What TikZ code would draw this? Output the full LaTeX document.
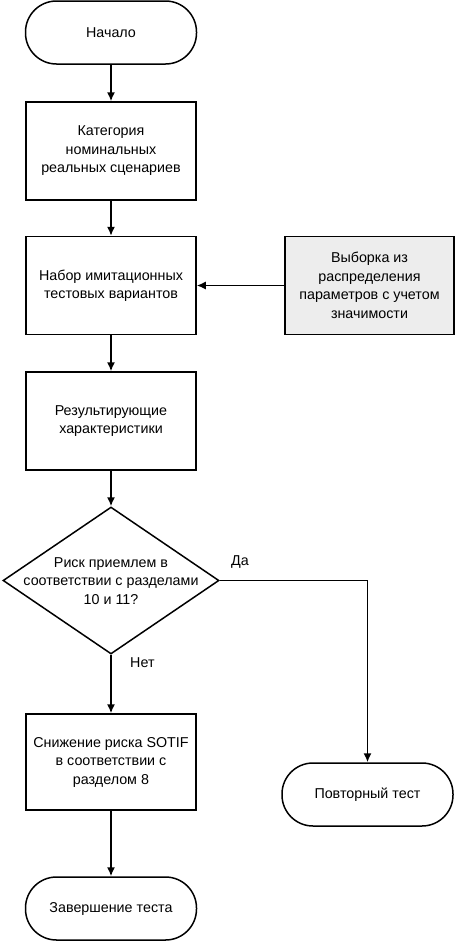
\documentclass[tikz,border=0pt]{standalone}
\usepackage{fontspec}
\setmainfont{Liberation Sans}
\usetikzlibrary{shapes.geometric,arrows.meta}
\begin{document}
\begin{tikzpicture}[x=1pt,y=-1pt,
  base/.style={draw, line width=1.5pt, align=center, font=\fontsize{14.3}{18.5}\selectfont, inner sep=0pt},
  proc/.style={base, minimum width=170pt, minimum height=98pt},
  term/.style={base, rounded corners=31pt, minimum width=171pt, minimum height=63pt},
  dec/.style={draw, line width=1.5pt, shape=diamond, inner sep=0pt, minimum width=216pt, minimum height=147pt},
  txt/.style={align=center, font=\fontsize{14.3}{18.5}\selectfont, inner sep=0pt},
  arr/.style={line width=1.5pt, -{Latex[length=9pt,width=8pt]}}]
\useasboundingbox (0,0) rectangle (458,943);
\node[term] (start) at (111,32.5) {Начало};
\node[proc] (cat) at (111,151) {Категория\\номинальных\\реальных сценариев};
\node[proc] (set) at (111,285.5) {Набор имитационных\\тестовых вариантов};
\node[proc, fill=black!7, minimum width=169pt] (samp) at (369.5,285.5) {Выборка из\\распределения\\параметров с учетом\\значимости};
\node[proc] (res) at (111,421) {Результирующие\\характеристики};
\node[dec] (dec) at (111,580.5) {};
\node[txt] (dectext) at (111,581) {Риск приемлем в\\соответствии с разделами\\10 и 11?};
\node[proc, minimum height=96pt] (red) at (111,762) {Снижение риска SOTIF\\в соответствии с\\разделом 8};
\node[term] (rep) at (367.5,794.5) {Повторный тест};
\node[term] (end) at (111,908.5) {Завершение теста};
\node[txt, anchor=west] (yes) at (231,562) {Да};
\node[txt, anchor=west] (no) at (130,663) {Нет};
\draw[arr] (start) -- (cat);
\draw[arr] (cat) -- (set);
\draw[arr] (samp) -- (set);
\draw[arr] (set) -- (res);
\draw[arr] (res) -- (dec);
\draw[arr] (dec) -- (red);
\draw[arr] (red) -- (end);
\draw[arr] (dec.east) -| (rep);
\end{tikzpicture}
\end{document}
